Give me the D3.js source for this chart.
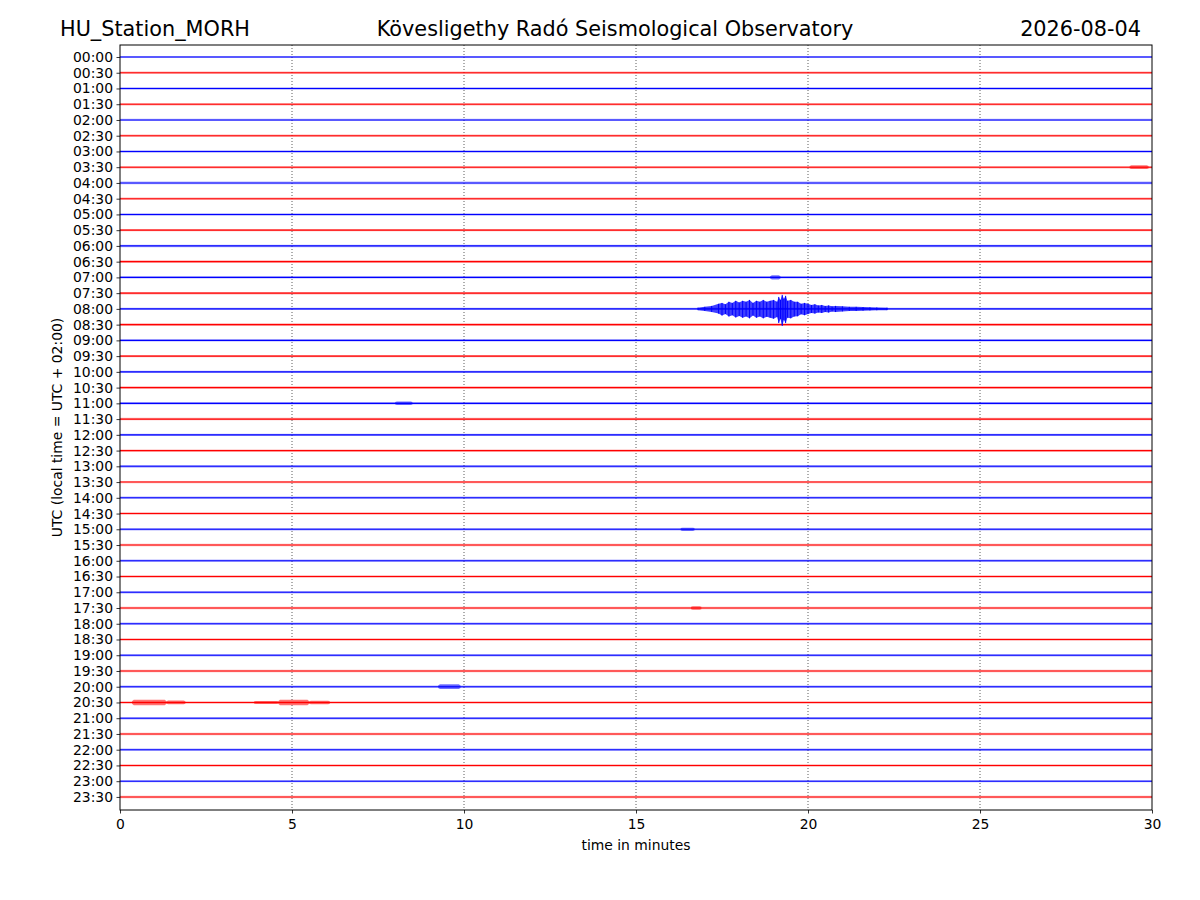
<!DOCTYPE html>
<html>
<head>
<meta charset="utf-8">
<title>MORH dayplot</title>
<script src="https://cdn.jsdelivr.net/npm/d3@7"></script>
<style>
  body { margin: 0; background: #fff; }
  text { font-family: "DejaVu Sans", sans-serif; fill: #000; }
</style>
</head>
<body>
<div id="viz"></div>
<script>
// tick labels, one per half-hour trace
var traceLabels = ['00:00','00:30','01:00','01:30','02:00','02:30','03:00','03:30','04:00','04:30',
  '05:00','05:30','06:00','06:30','07:00','07:30','08:00','08:30','09:00','09:30',
  '10:00','10:30','11:00','11:30','12:00','12:30','13:00','13:30','14:00','14:30',
  '15:00','15:30','16:00','16:30','17:00','17:30','18:00','18:30','19:00','19:30',
  '20:00','20:30','21:00','21:30','22:00','22:30','23:00','23:30'];
var minuteTicks = [0, 5, 10, 15, 20, 25, 30];

// background noise level of each trace (counts, 1000 = one trace spacing)
var noiseLevel = [70,75,80,75,70,80,75,80,85,80,80,75,80,85,75,80,75,80,75,75,
  75,80,80,80,75,75,85,75,80,75,75,80,75,75,75,75,75,75,75,75,
  75,80,75,75,75,80,75,80];

// small local bursts: trace index, start minute, end minute, amplitude
var burstTrace = [7, 14, 22, 30, 35, 40, 41, 41, 41, 41, 41];
var burstStart = [29.35, 18.9, 8.0, 16.3, 16.6, 9.25, 0.35, 1.35, 3.9, 4.6, 5.5];
var burstEnd   = [29.9, 19.2, 8.5, 16.7, 16.9, 9.9, 1.35, 1.9, 4.6, 5.5, 6.1];
var burstAmp   = [120, 130, 110, 105, 105, 150, 180, 120, 100, 180, 115];

// the earthquake on the 08:00 trace
var quakeTrace = 16;
var quakeTime = [16.8,17.0,17.2,17.4,17.5,17.6,17.7,17.8,17.9,18.0,18.1,18.2,18.3,18.4,18.5,18.6,
  18.7,18.8,18.9,19.0,19.1,19.15,19.2,19.25,19.3,19.35,19.4,19.5,19.6,19.7,19.8,19.9,
  20.0,20.1,20.2,20.3,20.4,20.5,20.6,20.7,20.8,21.0,21.2,21.4,21.6,21.8,22.0,22.3];
var quakeUp = [80,130,190,320,380,290,450,380,510,410,510,450,570,380,510,450,
  570,450,510,570,450,760,570,890,640,830,510,570,450,450,320,380,
  320,250,290,220,250,190,220,160,190,160,130,130,115,100,90,80];
var quakeDown = [80,130,200,300,420,330,480,400,540,450,560,480,600,420,560,480,
  600,500,560,620,520,900,640,1080,700,900,560,600,480,470,340,400,
  330,260,300,230,260,200,230,170,200,160,130,130,115,100,90,80];

var width = 1200, height = 900;
var pLeft = 120, pRight = 1152, pTop = 45, pBottom = 810;
var colors = ['#0000ff', '#ff0000'];

var svg = d3.select('#viz').append('svg')
  .attr('width', width).attr('height', height);

var x = d3.scaleLinear().domain([0, 30]).range([pLeft, pRight]);
var y = d3.scaleLinear().domain([-0.762, 47.83]).range([pTop, pBottom]);
var amp = d3.scaleLinear().domain([0, 1000]).range([0, y(1) - y(0)]);

var plot = svg.append('g');
plot.append('defs').append('clipPath').attr('id', 'clip')
  .append('rect').attr('x', pLeft).attr('y', pTop)
  .attr('width', pRight - pLeft).attr('height', pBottom - pTop);

// dotted grid
plot.selectAll('line.grid')
  .data(minuteTicks.filter(d => d > 0 && d < 30))
  .join('line')
  .attr('class', 'grid')
  .attr('x1', d => x(d)).attr('x2', d => x(d))
  .attr('y1', pTop).attr('y2', pBottom)
  .attr('stroke', '#333').attr('stroke-width', 0.8)
  .attr('stroke-dasharray', '1,2');

var traces = plot.append('g').attr('clip-path', 'url(#clip)');
var band = d3.area().x(d => x(d.t)).y0(d => d.y + amp(d.down)).y1(d => d.y - amp(d.up));

// noise band + centre line for every trace
traceLabels.forEach(function(lab, i){
  var c = colors[i % 2];
  var pts = [0, 30].map(t => ({t: t, y: y(i), up: noiseLevel[i], down: noiseLevel[i]}));
  traces.append('path').attr('d', band(pts)).attr('fill', c).attr('opacity', 0.3);
  traces.append('line')
    .attr('x1', x(0)).attr('x2', x(30)).attr('y1', y(i)).attr('y2', y(i))
    .attr('stroke', c).attr('stroke-width', 1.1);
});

// bursts
burstTrace.forEach(function(tr, k){
  var dt = Math.min(0.05, (burstEnd[k] - burstStart[k]) / 4);
  var pts = [
    {t: burstStart[k], up: noiseLevel[tr], down: noiseLevel[tr]},
    {t: burstStart[k] + dt, up: burstAmp[k], down: burstAmp[k]},
    {t: burstEnd[k] - dt, up: burstAmp[k], down: burstAmp[k]},
    {t: burstEnd[k], up: noiseLevel[tr], down: noiseLevel[tr]}
  ].map(p => Object.assign(p, {y: y(tr)}));
  traces.append('path').attr('d', band(pts))
    .attr('fill', colors[tr % 2]).attr('opacity', 0.55);
});

// earthquake
var qpts = quakeTime.map((t, k) => ({t: t, y: y(quakeTrace), up: quakeUp[k], down: quakeDown[k]}));
traces.append('path').attr('d', band(qpts))
  .attr('fill', colors[quakeTrace % 2]).attr('opacity', 0.75);
traces.selectAll('line.spike').data(qpts).join('line')
  .attr('class', 'spike')
  .attr('x1', d => x(d.t)).attr('x2', d => x(d.t))
  .attr('y1', d => d.y - amp(d.up)).attr('y2', d => d.y + amp(d.down))
  .attr('stroke', colors[quakeTrace % 2]).attr('stroke-width', 1);

// axes
var yAxis = d3.axisLeft(y)
  .tickValues(d3.range(traceLabels.length))
  .tickFormat(i => traceLabels[i])
  .tickSize(3.5).tickPadding(3.5);
var xAxis = d3.axisBottom(x)
  .tickValues(minuteTicks)
  .tickSize(3.5).tickPadding(5.5);

var gy = svg.append('g').attr('transform', `translate(${pLeft},0)`).call(yAxis);
var gx = svg.append('g').attr('transform', `translate(0,${pBottom})`).call(xAxis);
[gx, gy].forEach(function(g){
  g.select('.domain').remove();
  g.selectAll('text').attr('font-size', 13.9).attr('font-family', 'DejaVu Sans');
  g.selectAll('line').attr('stroke', '#000').attr('stroke-width', 0.8);
});

svg.append('rect')
  .attr('x', pLeft).attr('y', pTop)
  .attr('width', pRight - pLeft).attr('height', pBottom - pTop)
  .attr('fill', 'none').attr('stroke', '#000').attr('stroke-width', 1);

// labels and titles
svg.append('text')
  .attr('x', (pLeft + pRight) / 2).attr('y', 850)
  .attr('text-anchor', 'middle').attr('font-size', 13.9)
  .text('time in minutes');
svg.append('text')
  .attr('transform', `translate(62,${(pTop + pBottom) / 2}) rotate(-90)`)
  .attr('text-anchor', 'middle').attr('font-size', 13.9)
  .text('UTC (local time = UTC + 02:00)');

svg.append('text').attr('x', 60).attr('y', 36).attr('font-size', 20.8)
  .text('HU_Station_MORH');
svg.append('text').attr('x', 615).attr('y', 36).attr('font-size', 20.8)
  .attr('text-anchor', 'middle')
  .text('Kövesligethy Radó Seismological Observatory');
svg.append('text').attr('x', 1141).attr('y', 36).attr('font-size', 20.8)
  .attr('text-anchor', 'end')
  .text('2026-08-04');
</script>
</body>
</html>
